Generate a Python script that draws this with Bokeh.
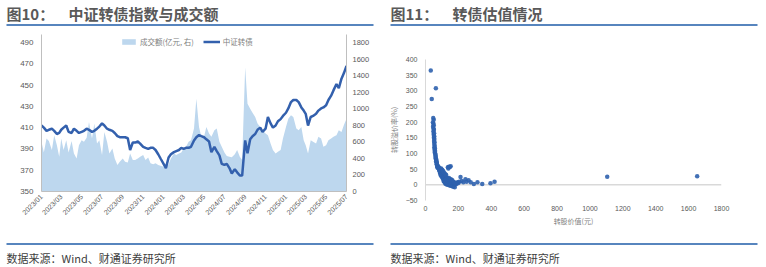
import math
import pandas as pd
from bokeh.plotting import figure
from bokeh.layouts import row, column
from bokeh.models import (Range1d, LinearAxis, FixedTicker, DatetimeTickFormatter,
                          Legend, LegendItem, Span, ColumnDataSource)
from bokeh.core.properties import value
from bokeh.embed import file_html
from bokeh.resources import INLINE

W = 383
CJK = "Noto Sans CJK SC"
LAT = "Liberation Sans"
BLUE_RULE = "#1f5ca8"

# ---------------- data: chart 10 ----------------
x_labels = ["2023/01", "2023/03", "2023/05", "2023/07", "2023/09", "2023/11",
            "2024/01", "2024/03", "2024/05", "2024/07", "2024/09", "2024/11",
            "2025/01", "2025/03", "2025/05", "2025/07"]

month_starts = pd.date_range("2023-01-01", "2025-06-01", freq="MS")
dates = [m + pd.Timedelta(days=d - 1) for m in month_starts for d in (1, 8, 16, 23)]
dates.append(pd.Timestamp("2025-07-01"))

# 中证转债 (left axis), four readings per month
index_vals = [
    412, 410, 407, 408,   # 2023-01
    409, 407, 404, 405,
    408, 410, 412, 406,
    405, 409, 407, 405,
    406, 407, 409, 408,
    406, 407, 409, 411,
    414, 412, 409, 408,   # 2023-07
    407, 405, 402, 401,
    401, 401, 400, 389,
    396, 396, 397, 395,
    392, 391, 390, 391,
    391, 389, 385, 381,
    376, 372, 382, 385,   # 2024-01
    387, 388, 389, 391,
    390, 391, 391, 392,
    398, 401, 403, 402,
    401, 399, 397, 387,
    392, 388, 384, 376,
    375, 376, 372, 367,   # 2024-07
    371, 368, 365, 365,
    398, 386, 399, 402,
    404, 408, 410, 406,
    409, 420, 414, 410,
    412, 416, 418, 421,
    424, 428, 434, 436,   # 2025-01
    436, 434, 429, 426,
    423, 412, 420, 421,
    423, 426, 428, 429,
    431, 436, 440, 445,
    451, 447, 456, 461,
    468,                  # 2025-07
]

# 成交额(亿元, 右)
volume_vals = [
    600, 470, 640, 610,   # 2023-01
    500, 680, 560, 420,
    640, 500, 620, 470,
    610, 460, 400, 560,
    620, 600, 650, 840,
    640, 820, 580, 620,
    440, 720, 600, 460,   # 2023-07
    520, 400, 320, 360,
    400, 360, 350, 460,
    380, 380, 400, 420,
    440, 380, 410, 340,
    330, 340, 320, 310,
    300, 290, 330, 400,   # 2024-01
    460, 440, 460, 470,
    520, 540, 600, 620,
    760, 1120, 780, 660,
    660, 780, 700, 660,
    740, 760, 600, 540,
    470, 430, 420, 415,   # 2024-07
    450, 500, 420, 380,
    1500, 1060, 1000, 950,
    900, 820, 780, 740,
    700, 680, 580, 500,
    460, 480, 500, 640,
    780, 880, 920, 900,   # 2025-01
    760, 740, 780, 620,
    560, 460, 620, 600,
    580, 660, 640, 540,
    560, 620, 640, 660,
    680, 740, 720, 800,
    880,                  # 2025-07
]

left_ticks = [350, 370, 390, 410, 430, 450, 470, 490]
right_ticks = [0, 200, 400, 600, 800, 1000, 1200, 1400, 1600, 1800]

# ---------------- data: chart 11 ----------------
conv_value = [
    32, 38, 63,
    47, 50, 45, 48, 50, 46, 49, 51, 48, 52, 50, 53, 51, 54, 52, 55, 53, 56, 54, 57, 55, 58, 56,
    59, 60, 62, 61, 63, 64, 66, 65, 67, 69, 68, 70, 72, 74, 71, 76, 73, 78, 80,
    82, 84, 86, 85, 88, 90, 92, 89, 94, 96, 98, 93, 100, 102, 105, 99, 108, 110, 104, 112, 115, 118, 107, 120, 122, 113, 125, 128, 117, 130,
    96, 100, 103, 106, 109, 112, 116, 119, 123, 127, 131, 135, 91, 87, 83, 95, 101, 106, 111, 115, 121, 126,
    136, 142, 148, 153, 139,
    110, 114, 118, 121, 124, 127, 130, 133, 136, 139, 142, 145, 148, 151, 154, 157, 160, 163, 166, 169, 172, 175,
    120, 126, 132, 138, 144, 150, 156, 162, 168,
    140, 146, 152, 158, 164, 170, 176, 180, 185, 190,
    135, 141, 147, 153, 159, 165, 171, 177, 183,
    128, 134, 143, 150, 157, 163, 178,
    195, 200, 205, 213, 220, 230, 243, 250, 262, 275, 294, 316, 345, 395, 420,
    1105, 1652,
]
premium = [
    365, 274, 308,
    213, 208, 200, 195, 190, 185, 180, 176, 170, 165, 160, 155, 150, 146, 140, 136, 130, 125, 120, 116, 112, 108, 104,
    100, 96, 92, 88, 85, 82, 78, 75, 72, 70, 66, 64, 62, 60, 58, 57, 55, 54, 52,
    50, 48, 46, 44, 42, 40, 38, 36, 35, 33, 32, 30, 30, 28, 27, 26, 25, 24, 22, 22, 21, 20, 19, 18, 17, 16, 16, 15, 14, 14,
    44, 41, 38, 36, 33, 31, 29, 27, 25, 23, 21, 19, 47, 51, 55, 52, 48, 45, 40, 37, 34, 31,
    56, 58, 57, 59, 52,
    12, 10, 9, 8, 11, 7, 6, 9, 5, 4, 7, 3, 2, 5, 1, 3, 0, 2, -1, 1, -2, 0,
    4, 2, 1, 0, -1, -2, -3, -4, -6,
    12, 10, 9, 8, 6, 5, 4, 3, 2, 4,
    14, 16, 13, 14, 12, 11, 9, 7, 6,
    18, 20, 22, 18, 17, 15, -8,
    8, 6, 10, 25, 12, 8, 18, 10, 15, 8, 3, 8, 3, 5, 10,
    26, 27,
]
sx_ticks = [0, 200, 400, 600, 800, 1000, 1200, 1400, 1600, 1800]
sy_ticks = [-50, 0, 50, 100, 150, 200, 250, 300, 350, 400]


# ---------------- helpers ----------------
def blank(height):
    p = figure(width=W, height=height, x_range=Range1d(0, W), y_range=Range1d(height, 0),
               toolbar_location=None, output_backend="svg", min_border=0,
               x_axis_location=None, y_axis_location=None, frame_align=False)
    p.grid.visible = False
    p.outline_line_color = None
    p.background_fill_color = "white"
    p.border_fill_color = "white"
    return p


def header(dx, num, title):
    p = blank(30)
    p.text(x=[dx], y=[12.5], text=[num], text_font=value(CJK), text_font_size="15px",
           text_font_style="bold", text_color="#595959", text_baseline="middle")
    p.text(x=[dx + 62], y=[12.5], text=[title], text_font=value(CJK), text_font_size="15px",
           text_font_style="bold", text_color="#595959", text_baseline="middle")
    p.segment(x0=[dx], y0=[24.5], x1=[dx + 367], y1=[24.5], line_color=BLUE_RULE, line_width=1.6)
    return p


def footer(dx):
    p = blank(27)
    p.segment(x0=[dx], y0=[3.5], x1=[dx + 367], y1=[3.5], line_color=BLUE_RULE, line_width=1.6)
    p.text(x=[dx], y=[17], text=["数据来源：Wind、财通证券研究所"], text_font=value(CJK),
           text_font_size="11px", text_color="#404040", text_baseline="middle")
    return p


def style_axis(ax, size="8px"):
    ax.major_tick_line_color = None
    ax.minor_tick_line_color = None
    ax.major_tick_out = 0
    ax.major_tick_in = 0
    ax.axis_line_color = "#bfbfbf"
    ax.major_label_text_color = "#595959"
    ax.major_label_text_font = LAT
    ax.major_label_text_font_size = size


# ---------------- chart 10 ----------------
# frame reaches 8px above the 490 / 1800 level so the legend fits inside it
src1 = ColumnDataSource(dict(date=dates, idx=index_vals, vol=volume_vals))
p1 = figure(width=W, height=210, x_axis_type="datetime",
            x_range=Range1d(dates[0], dates[-1]), y_range=Range1d(350, 497.5),
            min_border_left=41, min_border_right=37, min_border_top=4, min_border_bottom=49,
            toolbar_location=None, output_backend="svg", frame_align=False)
p1.extra_y_ranges = {"vol": Range1d(0, 1896.6)}
area = p1.varea(x="date", y1=0, y2="vol", source=src1, fill_color="#bdd7ee",
                y_range_name="vol")
line = p1.line(x="date", y="idx", source=src1, line_color="#3360ad", line_width=2.5)
p1.add_layout(LinearAxis(y_range_name="vol", ticker=FixedTicker(ticks=right_ticks)), "right")
p1.yaxis[0].ticker = FixedTicker(ticks=left_ticks)
tick_ms = [pd.Timestamp(lbl.replace("/", "-") + "-01").timestamp() * 1000 for lbl in x_labels]
p1.xaxis.ticker = FixedTicker(ticks=tick_ms)
fmt = "%Y/%m"
p1.xaxis.formatter = DatetimeTickFormatter(microseconds=fmt, milliseconds=fmt, seconds=fmt,
                                           minsec=fmt, minutes=fmt, hourmin=fmt, hours=fmt,
                                           days=fmt, months=fmt, years=fmt)
p1.xaxis.major_label_orientation = math.pi / 4
for ax in p1.axis:
    style_axis(ax)
p1.xaxis.major_label_text_font_size = "7px"
p1.xaxis.major_label_standoff = 4
p1.yaxis[0].major_label_standoff = 8
p1.yaxis[1].major_label_standoff = 6
p1.yaxis[1].major_label_text_font_size = "7.5px"
p1.grid.visible = False
p1.outline_line_color = None
legend = Legend(items=[LegendItem(label="成交额(亿元, 右)", renderers=[area]),
                       LegendItem(label="中证转债", renderers=[line])],
                orientation="horizontal", location=(79, 144))
legend.label_text_font = CJK
legend.label_text_font_size = "7.5px"
legend.label_text_color = "#7f7f7f"
legend.glyph_width = 17
legend.glyph_height = 7
legend.spacing = 9
legend.padding = 0
legend.margin = 0
legend.label_standoff = 3
legend.label_height = 9
legend.border_line_color = None
legend.background_fill_alpha = 0
p1.add_layout(legend)

# ---------------- chart 11 ----------------
src2 = ColumnDataSource(dict(x=conv_value, y=premium))
p2 = figure(width=W, height=210, x_range=Range1d(0, 1800), y_range=Range1d(-50, 400),
            min_border_left=42, min_border_right=45, min_border_top=29, min_border_bottom=40,
            toolbar_location=None, output_backend="svg", frame_align=False)
p2.add_layout(Span(location=0, dimension="width", line_color="#d9d9d9", line_width=1.5,
                   level="underlay"))
p2.scatter(x="x", y="y", source=src2, size=4.5, fill_color="#2f62ae", line_color=None,
           fill_alpha=0.9)
p2.xaxis.ticker = FixedTicker(ticks=sx_ticks)
p2.yaxis.ticker = FixedTicker(ticks=sy_ticks)
for ax in p2.axis:
    style_axis(ax, "7px")
p2.xaxis.axis_line_color = None
p2.yaxis.axis_line_color = "#d9d9d9"
p2.xaxis.major_label_standoff = 5
p2.yaxis.major_label_standoff = 8
p2.xaxis.axis_label = "转股价值(元)"
p2.yaxis.axis_label = "转股溢价率(%)"
for ax in p2.axis:
    ax.axis_label_text_font = CJK
    ax.axis_label_text_font_size = "7px"
    ax.axis_label_text_font_style = "normal"
    ax.axis_label_text_color = "#7f7f7f"
p2.xaxis.axis_label_standoff = 2
p2.yaxis.axis_label_standoff = 4
p2.grid.visible = False
p2.outline_line_color = None

layout = row(column(header(6, "图10：", "中证转债指数与成交额"), p1, footer(6)),
             column(header(7, "图11：", "转债估值情况"), p2, footer(7)))

open("out.html", "w").write(file_html(layout, INLINE))
